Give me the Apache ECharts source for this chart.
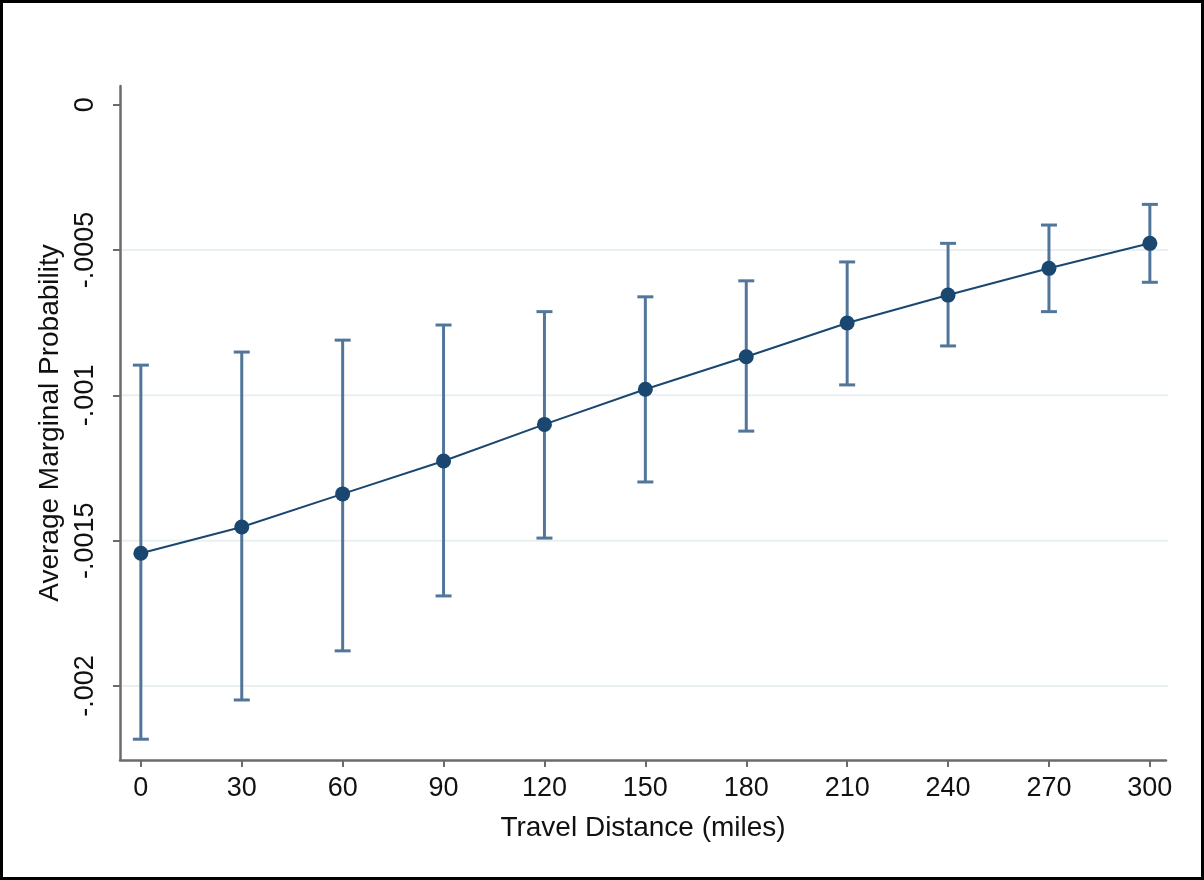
<!DOCTYPE html>
<html>
<head>
<meta charset="utf-8">
<script src="https://cdn.jsdelivr.net/npm/echarts@6/dist/echarts.min.js"></script>
<style>
html,body{margin:0;padding:0;background:#fff;}
#chart{width:1204px;height:880px;}
</style>
</head>
<body>
<div id="chart"></div>
<script>
// Data
const distances = [0, 30, 60, 90, 120, 150, 180, 210, 240, 270, 300];
const margins   = [-0.001543, -0.001453, -0.001339, -0.001226, -0.001100, -0.000979, -0.000867, -0.000751, -0.000655, -0.000563, -0.000477];
const ciUpper   = [-0.000896, -0.000851, -0.000810, -0.000758, -0.000712, -0.000661, -0.000606, -0.000541, -0.000477, -0.000414, -0.000343];
const ciLower   = [-0.002183, -0.002048, -0.001879, -0.001690, -0.001491, -0.001298, -0.001123, -0.000964, -0.000830, -0.000712, -0.000611];
const xTicks    = [0, 30, 60, 90, 120, 150, 180, 210, 240, 270, 300];
const yTicks    = [0, -0.0005, -0.001, -0.0015, -0.002];
const gridValues = [-0.0005, -0.001, -0.0015, -0.002];
const xTitle = 'Travel Distance (miles)';
const yTitle = 'Average Marginal Probability';

const lineColor = '#1a476f';
const ciColor = '#52769a';
const axisColor = '#6b6b6b';
const gridColor = '#e8f0f2';
const fontFamily = '"Liberation Sans", Arial, Helvetica, sans-serif';

const chart = echarts.init(document.getElementById('chart'));

const ciData = distances.map((d, i) => [d, ciLower[i], ciUpper[i]]);
const pointData = distances.map((d, i) => [d, margins[i]]);
const gridData = gridValues.map(v => [0, v]);

const option = {
  animation: false,
  backgroundColor: '#ffffff',
  graphic: [{
    type: 'rect',
    shape: {x: 1.5, y: 1.5, width: 1201, height: 877},
    style: {fill: 'none', stroke: '#000', lineWidth: 3},
    silent: true,
    z: 100
  }],
  grid: {left: 120, right: 38, top: 86, bottom: 120, containLabel: false},
  xAxis: {
    type: 'value',
    min: -6.2,
    max: 304.8,
    name: xTitle,
    nameLocation: 'middle',
    nameGap: 54,
    nameTextStyle: {fontSize: 28, color: '#111', fontFamily: fontFamily},
    axisLine: {show: true, onZero: false, lineStyle: {color: axisColor, width: 2.5}},
    axisTick: {show: true, customValues: xTicks, length: 7, lineStyle: {color: axisColor, width: 2}},
    axisLabel: {customValues: xTicks, fontSize: 27, color: '#111', fontFamily: fontFamily, margin: 15},
    splitLine: {show: false}
  },
  yAxis: {
    type: 'value',
    min: -0.0022545,
    max: 0.0000643,
    name: yTitle,
    nameLocation: 'middle',
    nameGap: 54,
    nameRotate: 90,
    nameTextStyle: {fontSize: 28, color: '#111', fontFamily: fontFamily},
    axisLine: {show: true, onZero: false, lineStyle: {color: axisColor, width: 2.5}},
    axisTick: {show: true, customValues: yTicks, length: 7, lineStyle: {color: axisColor, width: 2}},
    axisLabel: {
      customValues: yTicks,
      rotate: 90,
      fontSize: 27,
      color: '#111',
      fontFamily: fontFamily,
      margin: 21,
      formatter: function (v) {
        if (Math.abs(v) < 1e-12) return '0';
        return String(v).replace('0.', '.');
      }
    },
    splitLine: {show: false}
  },
  series: [
    {
      type: 'custom',
      data: gridData,
      silent: true,
      z: 1,
      renderItem: function (params, api) {
        const p = api.coord([0, api.value(1)]);
        const cs = params.coordSys;
        return {
          type: 'line',
          shape: {x1: cs.x + 2, y1: p[1], x2: cs.x + cs.width + 2, y2: p[1]},
          style: {stroke: gridColor, lineWidth: 2}
        };
      }
    },
    {
      type: 'custom',
      data: ciData,
      z: 3,
      renderItem: function (params, api) {
        const x = api.value(0);
        const lo = api.coord([x, api.value(1)]);
        const hi = api.coord([x, api.value(2)]);
        const cap = 8;
        const style = {stroke: ciColor, lineWidth: 3, fill: 'none'};
        return {
          type: 'group',
          children: [
            {type: 'line', shape: {x1: lo[0], y1: lo[1], x2: hi[0], y2: hi[1]}, style: style},
            {type: 'line', shape: {x1: lo[0] - cap, y1: lo[1], x2: lo[0] + cap, y2: lo[1]}, style: style},
            {type: 'line', shape: {x1: hi[0] - cap, y1: hi[1], x2: hi[0] + cap, y2: hi[1]}, style: style}
          ]
        };
      }
    },
    {
      type: 'line',
      data: pointData,
      z: 5,
      symbol: 'circle',
      symbolSize: 15,
      lineStyle: {color: lineColor, width: 2},
      itemStyle: {color: lineColor, borderWidth: 0}
    }
  ]
};

chart.setOption(option);
</script>
</body>
</html>
